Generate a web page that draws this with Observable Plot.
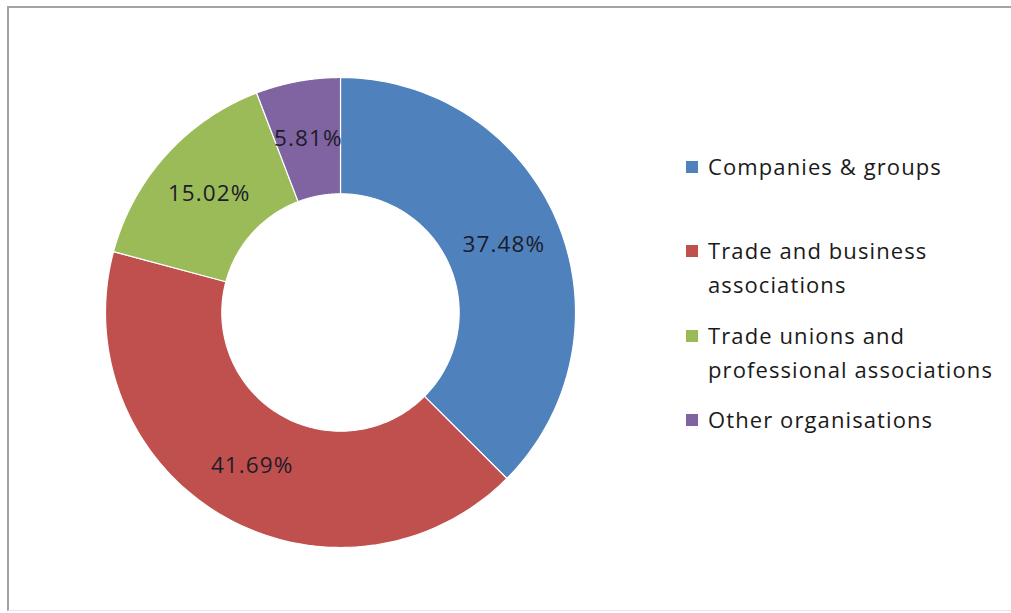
<!DOCTYPE html>
<html>
<head>
<meta charset="utf-8">
<script src="https://cdn.jsdelivr.net/npm/d3@7"></script>
<script src="https://cdn.jsdelivr.net/npm/@observablehq/plot@0.6"></script>
<style>
  html, body { margin: 0; padding: 0; background: #fff; overflow: hidden; }
  #wrap { position: relative; width: 1011px; height: 613px; overflow: hidden; }
  #frame { position: absolute; left: 7px; top: 6px; width: 1030px; height: 605px;
           border-left: 2px solid #a3a3a3; border-top: 2px solid #a3a3a3; border-bottom: 1px solid #e6e6e6; box-sizing: border-box; }
  #chart { position: absolute; left: 0; top: 0; }
  #chart svg text { letter-spacing: 1.1px; }
  #legend { position: absolute; left: 686px; top: 150px; font-family: "Open Sans", sans-serif; font-size: 22px; letter-spacing: 1.1px; color: #1a1a1a; }
  .item { position: absolute; left: 0; white-space: nowrap; line-height: 33.5px; }
  .sw { position: absolute; left: 0; width: 12px; height: 12px; }
  .txt { position: absolute; left: 22px; }
</style>
</head>
<body>
<div id="wrap">
  <div id="frame"></div>
  <div id="chart"></div>
  <div id="legend"></div>
</div>
<script>
const categories = ["Companies & groups", "Trade and business associations", "Trade unions and professional associations", "Other organisations"];
const legendLines = [["Companies & groups"], ["Trade and business", "associations"], ["Trade unions and", "professional associations"], ["Other organisations"]];
const values = [37.48, 41.69, 15.02, 5.81];
const colors = ["#4F81BD", "#C0504D", "#9BBB59", "#8064A2"];

const innerR = 0.505, outerR = 1;
const pie = d3.pie().sort(null).value(d => d.value)(categories.map((c, i) => ({cat: c, value: values[i]})));

const pts = [];
const labels = [];
pie.forEach(s => {
  const n = 120;
  const ring = [];
  for (let k = 0; k <= n; k++) {
    const a = s.startAngle + (s.endAngle - s.startAngle) * k / n;
    ring.push([outerR * Math.sin(a), outerR * Math.cos(a)]);
  }
  for (let k = n; k >= 0; k--) {
    const a = s.startAngle + (s.endAngle - s.startAngle) * k / n;
    ring.push([innerR * Math.sin(a), innerR * Math.cos(a)]);
  }
  ring.push(ring[0]);
  ring.forEach(([x, y]) => pts.push({cat: s.data.cat, x, y}));
  const m = (s.startAngle + s.endAngle) / 2, rm = (innerR + outerR) / 2;
  labels.push({cat: s.data.cat, x: rm * Math.sin(m), y: rm * Math.cos(m), text: d3.format(".2f")(s.data.value) + "%"});
});

const chart = Plot.plot({
  width: 1011, height: 613,
  margin: 0,
  x: {domain: [-1, 1], range: [105, 575], axis: null},
  y: {domain: [-1, 1], range: [547, 77], axis: null},
  color: {domain: categories, range: colors},
  style: {background: "transparent"},
  marks: [
    Plot.line(pts, {x: "x", y: "y", z: "cat", fill: "cat", stroke: "#ffffff", strokeWidth: 1.2, curve: "linear"}),
    Plot.text(labels, {x: "x", y: "y", text: "text", fill: "#1c1c2a", fontSize: 22.5, fontFamily: "'Open Sans', sans-serif"})
  ]
});
document.getElementById("chart").appendChild(chart);

const leg = document.getElementById("legend");
const tops = [0, 84, 169, 253];
legendLines.forEach((lines, i) => {
  const it = document.createElement("div");
  it.className = "item";
  it.style.top = tops[i] + "px";
  const sw = document.createElement("div");
  sw.className = "sw";
  sw.style.background = colors[i];
  sw.style.top = "11px";
  it.appendChild(sw);
  const t = document.createElement("div");
  t.className = "txt";
  t.innerHTML = lines.join("<br>");
  it.appendChild(t);
  leg.appendChild(it);
});
</script>
</body>
</html>
